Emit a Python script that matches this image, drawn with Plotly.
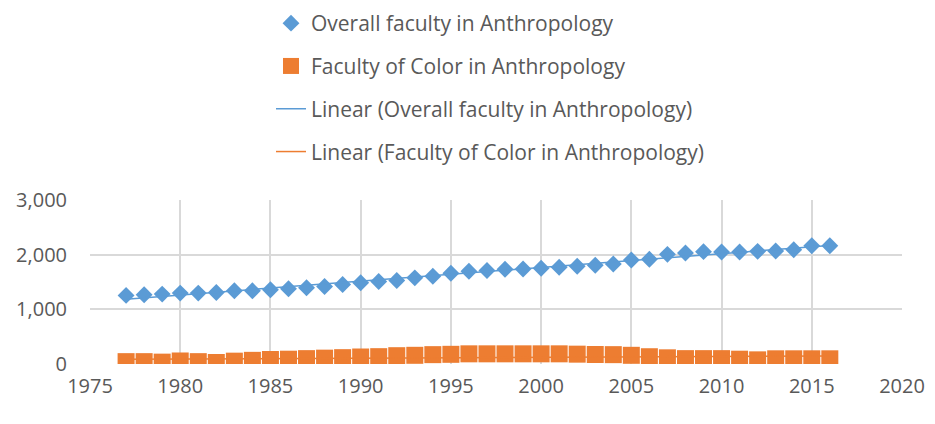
import numpy as np
import plotly.graph_objects as go

years = list(range(1977, 2017))
overall = [1255, 1267, 1279, 1297, 1297, 1309, 1339, 1339, 1358, 1376,
           1394, 1418, 1455, 1485, 1510, 1527, 1576, 1606, 1661, 1697,
           1709, 1733, 1739, 1752, 1770, 1788, 1806, 1830, 1903, 1915,
           2006, 2030, 2055, 2048, 2048, 2061, 2067, 2091, 2164, 2164]
color_fac = [43, 43, 34, 55, 43, 27, 52, 67, 82, 88,
             98, 107, 116, 128, 134, 152, 159, 171, 177, 186,
             186, 186, 186, 186, 186, 180, 174, 171, 159, 133,
             113, 98, 98, 98, 88, 76, 95, 95, 95, 95]

names = ["Overall faculty in Anthropology", "Faculty of Color in Anthropology"]
blue = "#5B9BD5"
orange = "#ED7D31"

x = np.array(years, dtype=float)
fit_o = np.polyval(np.polyfit(x, overall, 1), x)
fit_c = np.polyval(np.polyfit(x, color_fac, 1), x)

fig = go.Figure()
fig.add_trace(go.Scatter(x=years, y=overall, mode="markers", name=names[0], legendgroup="a", legendrank=1,
                         marker=dict(symbol="diamond", size=13, color=blue)))
fig.add_trace(go.Scatter(x=years, y=color_fac, mode="markers", name=names[1], legendgroup="b", legendrank=2,
                         marker=dict(symbol="square", size=17, color=orange)))
fig.add_trace(go.Scatter(x=years, y=fit_o, mode="lines", line=dict(color=blue, width=1.5),
                         name="Linear (" + names[0] + ")", legendgroup="c", legendrank=3, hoverinfo="skip"))
fig.add_trace(go.Scatter(x=years, y=fit_c, mode="lines", line=dict(color=orange, width=1.5),
                         name="Linear (" + names[1] + ")", legendgroup="d", legendrank=4, hoverinfo="skip"))

font = "Open Sans, Liberation Sans, sans-serif"
fig.update_layout(
    width=935, height=424,
    margin=dict(l=82, r=41, t=192, b=68, autoexpand=False),
    paper_bgcolor="white", plot_bgcolor="white",
    font=dict(family=font, size=20, color="#595959"),
    showlegend=True,
    legend=dict(xref="container", yref="paper", x=263/935, y=1.0 + 197/164, xanchor="left", yanchor="top",
                tracegroupgap=12.5, font=dict(size=21, color="#595959"), bgcolor="rgba(0,0,0,0)"),
    xaxis=dict(range=[1975, 2020], tickvals=list(range(1975, 2021, 5)), showgrid=True,
               gridcolor="#d9d9d9", gridwidth=1.5, zeroline=False, showline=False,
               tickfont=dict(size=20, color="#595959"), ticks="", ticklabelstandoff=8),
    yaxis=dict(range=[0, 3000], tickvals=[0, 1000, 2000, 3000], tickformat=",d", showgrid=True,
               gridcolor="#d9d9d9", gridwidth=1.5, zeroline=False, showline=False,
               tickfont=dict(size=20, color="#595959"), ticks="", ticklabelstandoff=22),
)
fig.write_html("out.html")
